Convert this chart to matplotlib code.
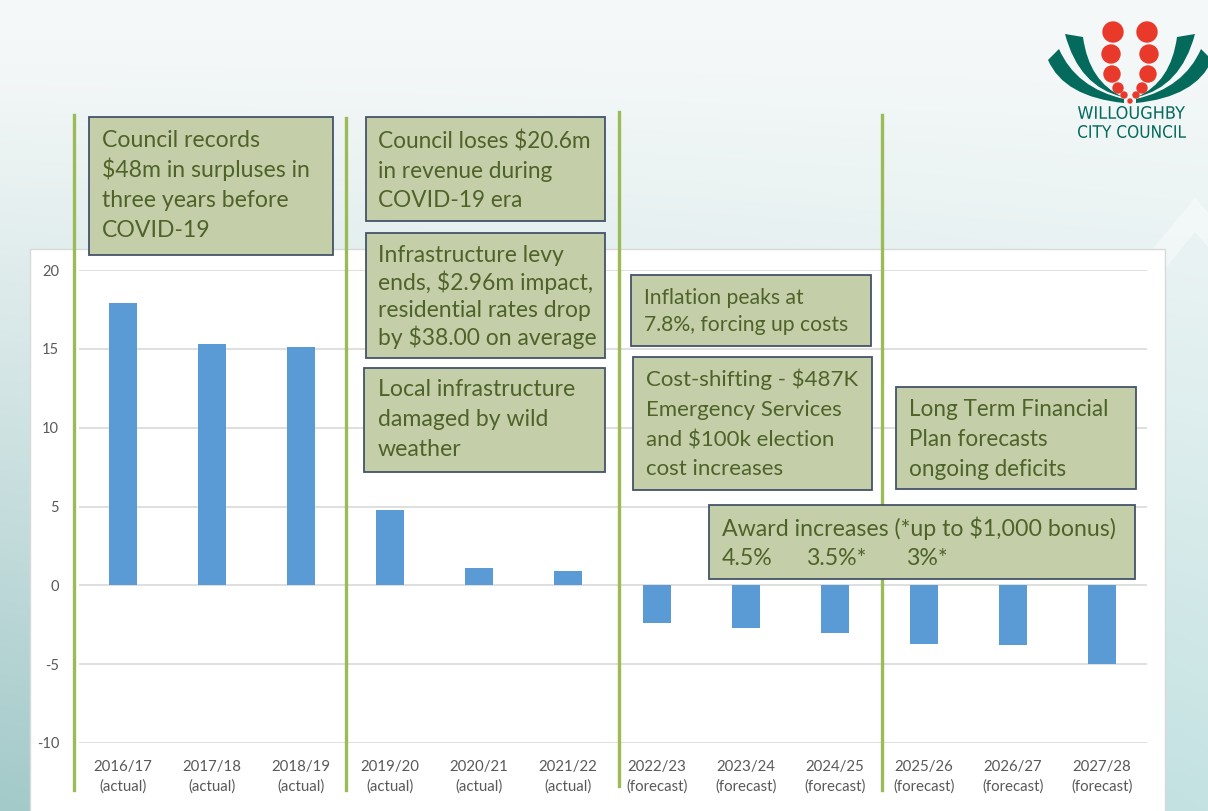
import matplotlib
matplotlib.use("Agg")
import matplotlib.pyplot as plt
import numpy as np
from matplotlib.patches import Rectangle, Circle, PathPatch, Polygon
from matplotlib.path import Path
from matplotlib.lines import Line2D
from matplotlib.transforms import blended_transform_factory, Affine2D
from matplotlib.textpath import TextPath
from matplotlib.font_manager import FontProperties
from matplotlib.colors import to_rgb

# ---------------- data ----------------
years = ["2016/17", "2017/18", "2018/19", "2019/20", "2020/21", "2021/22",
         "2022/23", "2023/24", "2024/25", "2025/26", "2026/27", "2027/28"]
status = ["actual"] * 6 + ["forecast"] * 6
result = [17.9, 15.3, 15.1, 4.8, 1.1, 0.9, -2.4, -2.7, -3.0, -3.75, -3.8, -5.0]
yticks = [-10, -5, 0, 5, 10, 15, 20]
period_breaks = [-0.55, 2.5, 5.57, 8.53]

box1_lines = ["Council records", "$48m in surpluses in", "three years before", "COVID-19"]
box2_lines = ["Council loses $20.6m", "in revenue during", "COVID-19 era"]
box3_lines = ["Infrastructure levy", "ends, $2.96m impact,", "residential rates drop", "by $38.00 on average"]
box4_lines = ["Local infrastructure", "damaged by wild", "weather"]
box5_lines = ["Inflation peaks at", "7.8%, forcing up costs"]
box6_lines = ["Cost-shifting - $487K", "Emergency Services", "and $100k election", "cost increases"]
box7_lines = ["Long Term Financial", "Plan forecasts", "ongoing deficits"]
box8_title = "Award increases (*up to $1,000 bonus)"
award_rates = ["4.5%", "3.5%*", "3%*"]
logo_lines = ["WILLOUGHBY", "CITY COUNCIL"]

# ---------------- styling ----------------
FONT = "Lato"
W, H = 1208, 811
BAR = "#5b9bd5"
GREEN = "#9bbb59"
BOX_FILL = "#c4cfaa"
BOX_EDGE = "#44546a"
BOX_TEXT = "#4f6228"
TICK = "#595959"
TEAL = "#036a5c"
RED = "#e8392b"

fig = plt.figure(figsize=(W / 100, H / 100), dpi=100)

# background gradient (pixel coords, y down)
bg = fig.add_axes([0, 0, 1, 1], zorder=-10)
yy = np.linspace(0, 1, H)[:, None]
xx = np.linspace(0, 1, W)[None, :]
c_top = np.array(to_rgb("#f5f8f8"))
c_bl = np.array(to_rgb("#a3c9c9"))
c_br = np.array(to_rgb("#c4e2e2"))
t = np.clip((yy - 0.05) / 0.95, 0, 1) ** 1.1
c_bot = c_bl[None, None, :] * (1 - xx[..., None]) + c_br[None, None, :] * xx[..., None]
img = c_top[None, None, :] * (1 - t[..., None]) + c_bot * t[..., None]
bg.imshow(img, extent=[0, W, H, 0], aspect="auto", interpolation="bilinear")
bg.set_xlim(0, W)
bg.set_ylim(H, 0)
bg.axis("off")
# faint chevron at top right
bg.add_patch(Polygon([(1110, 300), (1195, 198), (1285, 300), (1255, 300),
                      (1195, 232), (1140, 300)], closed=True,
                     facecolor="white", alpha=0.4, edgecolor="none"))
# white chart panel
bg.add_patch(Rectangle((30, 249), 1135, 600, facecolor="white",
                       edgecolor="#d9d9d9", lw=1.0))

# ---------------- main chart ----------------
ax = fig.add_axes([78.5 / W, (H - 743) / H, (1146.5 - 78.5) / W, (743 - 270) / H], zorder=1)
ax.patch.set_alpha(0)
x = np.arange(len(years))
ax.bar(x, result, width=0.31, color=BAR, zorder=3)
ax.set_xlim(-0.5, len(years) - 0.5)
ax.set_ylim(-10, 20)
ax.set_yticks(yticks)
ax.set_yticklabels([str(v) for v in yticks], family=FONT, fontsize=10.5, color=TICK)
ax.set_xticks(x)
ax.set_xticklabels([f"{y}\n({s})" for y, s in zip(years, status)],
                   family=FONT, fontsize=10.8, color=TICK, linespacing=1.5)
ax.tick_params(axis="x", length=0, pad=12)
ax.tick_params(axis="y", length=0, pad=14)
ax.yaxis.grid(True, color="#d9d9d9", lw=1.2)
ax.set_axisbelow(True)
for s in ax.spines.values():
    s.set_visible(False)

# overlay in pixel coords
ov = fig.add_axes([0, 0, 1, 1], zorder=5)
ov.set_xlim(0, W)
ov.set_ylim(H, 0)
ov.axis("off")
ov.patch.set_alpha(0)

# green period separators (x in data, y in pixels)
trans = blended_transform_factory(ax.transData, ov.transData)
for xb, (ya, yb) in zip(period_breaks, [(115, 790), (118, 790), (112, 786), (115, 790)]):
    ax.add_line(Line2D([xb, xb], [ya, yb], transform=trans, color=GREEN,
                       lw=2.4, clip_on=False, zorder=10))

renderer = fig.canvas.get_renderer()


def fit_size(text, target_w, base=18):
    tt = ov.text(0, 0, text, fontsize=base, family=FONT)
    w = tt.get_window_extent(renderer).width
    tt.remove()
    return base * target_w / w


def box(x0, y0, x1, y1):
    ov.add_patch(Rectangle((x0, y0), x1 - x0, y1 - y0, facecolor=BOX_FILL,
                           edgecolor=BOX_EDGE, lw=1.3, zorder=2))


def box_text(lines, xl, centers, ref_idx, ref_w):
    fs = fit_size(lines[ref_idx], ref_w)
    off = 0.36 * fs * 100 / 72
    for ln, cy in zip(lines, centers):
        ov.text(xl, cy + off, ln, fontsize=fs, family=FONT, color=BOX_TEXT,
                va="baseline", ha="left", zorder=3)
    return fs


box(89, 117, 333, 255)
box_text(box1_lines, 102, [139, 169, 199, 229], 1, 207)
box(366, 117, 605, 221)
box_text(box2_lines, 378, [140, 170, 199], 0, 213)
box(366, 233, 605, 358)
box_text(box3_lines, 378, [254, 282, 309, 337], 1, 214)
box(364, 368, 605, 472)
box_text(box4_lines, 378, [388, 418, 448], 0, 196)
box(631, 275, 871, 346)
box_text(box5_lines, 644, [296, 323], 1, 204)
box(633, 357, 872, 490)
box_text(box6_lines, 646, [378, 408, 438, 467], 0, 211)
box(896, 387, 1136, 489)
box_text(box7_lines, 909, [408, 438, 468], 0, 199)
box(709, 505, 1135, 579)
fs8 = box_text([box8_title], 722, [528], 0, 393)
off8 = 0.36 * fs8 * 100 / 72
for txt, xl in zip(award_rates, [722, 806, 906]):
    ov.text(xl, 557 + off8, txt, fontsize=fs8, family=FONT, color=BOX_TEXT,
            va="baseline", ha="left", zorder=3)

# ---------------- logo ----------------
cx = 1130


def petal(pts_codes, mirror=False):
    verts = [((2 * cx - px) if mirror else px, py) for px, py in pts_codes[0]]
    ov.add_patch(PathPatch(Path(verts, pts_codes[1]), facecolor=TEAL,
                           edgecolor="none", zorder=4))


C3 = Path.CURVE3
outer = ([(1048, 60), (1064, 97), (1124, 103), (1124, 99), (1076, 88), (1059, 49), (1048, 60)],
         [Path.MOVETO, C3, C3, Path.LINETO, C3, C3, Path.CLOSEPOLY])
inner = ([(1065, 34), (1083, 37), (1089, 82), (1123, 97), (1079, 87), (1065, 34)],
         [Path.MOVETO, Path.LINETO, C3, C3, C3, C3])
for m in (False, True):
    petal(outer, m)
    petal(inner, m)

dots = [(17, 32, 10), (19, 54, 9), (18, 74, 8), (12, 88, 5), (6, 95, 3)]
for dx, dy, r in dots:
    ov.add_patch(Circle((cx - dx, dy), r, color=RED, zorder=5))
    ov.add_patch(Circle((cx + dx, dy), r, color=RED, zorder=5))
ov.add_patch(Circle((cx, 101), 2, color=RED, zorder=5))

# logo lettering stretched to the measured box (x_left, baseline, width, cap height)
for txt, (xl, base_y, tw, th) in zip(logo_lines, [(1078, 119, 107, 13), (1078, 138, 108, 13)]):
    tp = TextPath((0, 0), txt, size=10, prop=FontProperties(family="DejaVu Sans"))
    ext = tp.get_extents()
    tr = (Affine2D().translate(-ext.x0, -ext.y0)
          .scale(tw / ext.width, -th / ext.height).translate(xl, base_y))
    ov.add_patch(PathPatch(tp.transformed(tr), facecolor=TEAL, edgecolor="none", zorder=5))

fig.savefig("out.png", dpi=100)
